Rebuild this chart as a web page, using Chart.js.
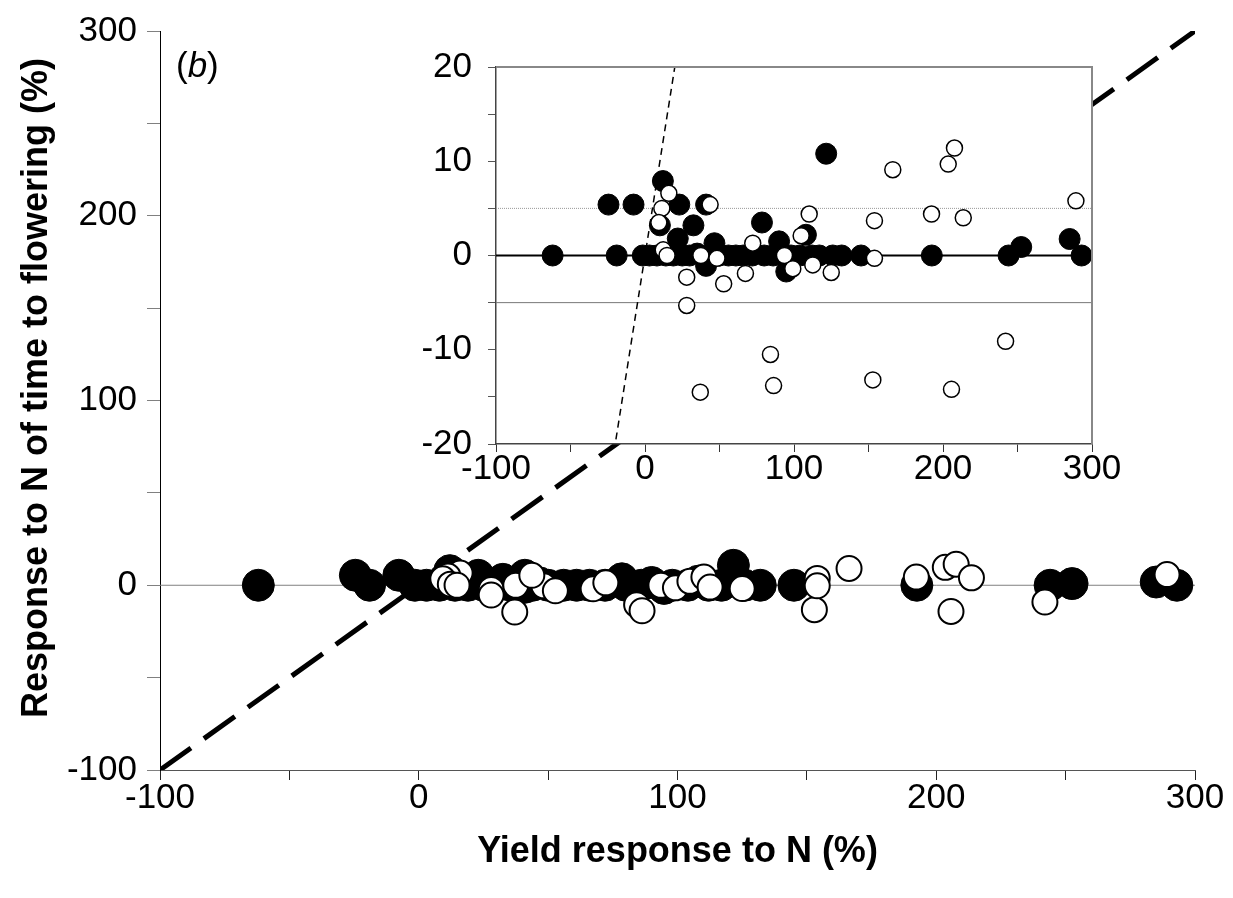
<!DOCTYPE html>
<html>
<head>
<meta charset="utf-8">
<script src="https://cdn.jsdelivr.net/npm/chart.js@4.4.0/dist/chart.umd.min.js"></script>
<style>
  html, body { margin: 0; padding: 0; background: #fff; }
  #wrap { position: relative; width: 1233px; height: 898px; }
  #mainChart { position: absolute; left: 0; top: 0; }
  #insetChart { position: absolute; left: 380px; top: 30px; }
</style>
</head>
<body>
<div id="wrap">
  <canvas id="mainChart" width="1233" height="898"></canvas>
  <canvas id="insetChart" width="760" height="470"></canvas>
</div>
<script>
// filled symbols: yield response (%) / flowering-time response (%)
const filledX = [-62, -24.5, -7.7, -19, -1.5, 3, 8, 12, 10, 14, 19, 23, 22, 25, 30, 32.5, 35, 41, 41, 44,
                 46.6, 50, 56, 61, 66, 72, 78.5, 80, 86, 90, 94.8, 98, 104, 108, 112, 117, 121.6, 126, 132, 145,
                 192.5, 244, 252.5, 285, 293];
const filledY = [0, 5.4, 5.4, 0, 0, 0, 0, 7.9, 3.2, 0, 0, 5.4, 1.8, 0, 0, 3.2, 0.2, 5.4, -1.1, 0,
                 1.3, 0, 0, 0, 0, 0, 3.5, 0, 0, 1.5, -1.7, 0, 0, 2.2, 0, 0, 10.8, 0, 0, 0,
                 0, 0, 0.9, 1.75, 0];

// open symbols
const openX = [16, 11.3, 9.3, 12.2, 14.8, 28, 28, 37.5, 48.3, 52.8, 67.4, 72.3, 37.1, 43.7, 84.2, 86.3, 93.6,
               99.2, 104.8, 110.2, 112.6, 125, 152.9, 154, 154, 166.3, 192.3, 203.5, 205.7, 207.7, 213.6, 242, 289.2];
const openY = [6.6, 5.0, 3.5, 0.6, 0, -2.3, -5.3, 0, -0.3, -3.0, -1.9, 1.3, -14.5, 5.4, -10.5, -13.8, 0,
               -1.4, 2.1, 4.4, -1.0, -1.8, -13.2, 3.7, -0.3, 9.1, 4.4, 9.7, -14.2, 11.4, 4.0, -9.1, 5.8];

// axis ranges and labelled ticks
const xRange = [-100, 300];
const mainYRange = [-100, 300];
const insetYRange = [-20, 20];
const mainTickLabels = [-100, 0, 100, 200, 300];
const insetYTickLabels = [-20, -10, 0, 10, 20];
const insetBands = [5, -5];

const FONT = '"Liberation Sans", Arial, sans-serif';

function toPoints(xs, ys) {
    return xs.map((x, i) => ({ x: x, y: ys[i] }));
}

function lineData(y) {
    return xRange.map(x => ({ x: x, y: y }));
}

function labelIf(list) {
    return (v) => list.includes(v) ? String(v) : '';
}

const mainText = {
    id: 'mainText',
    afterDraw(chart) {
        const ctx = chart.ctx;
        const area = chart.chartArea;
        ctx.save();
        ctx.fillStyle = '#000';
        ctx.textBaseline = 'middle';
        ctx.textAlign = 'center';
        ctx.font = 'bold 36px ' + FONT;
        ctx.fillText('Yield response to N (%)', (area.left + area.right) / 2, 852);
        ctx.save();
        ctx.translate(37, 388);
        ctx.rotate(-Math.PI / 2);
        ctx.fillText('Response to N of time to flowering (%)', 0, 0);
        ctx.restore();

        // panel letter, italic b in plain brackets
        ctx.textAlign = 'left';
        let x = 176;
        const parts = [['(', ''], ['b', 'italic '], [')', '']];
        for (const [t, style] of parts) {
            ctx.font = style + '35px ' + FONT;
            ctx.fillText(t, x, 67);
            x += ctx.measureText(t).width;
        }
        ctx.restore();
    }
};

const insetFrame = {
    id: 'insetFrame',
    beforeDraw(chart) {
        const a = chart.chartArea;
        const ctx = chart.ctx;
        ctx.save();
        ctx.fillStyle = '#fff';
        ctx.fillRect(a.left, a.top, a.right - a.left, a.bottom - a.top);
        ctx.restore();
    },
    afterDraw(chart) {
        const a = chart.chartArea;
        const ctx = chart.ctx;
        ctx.save();
        ctx.strokeStyle = '#888';
        ctx.lineWidth = 2;
        ctx.beginPath();
        ctx.moveTo(a.left, a.top);
        ctx.lineTo(a.right, a.top);
        ctx.lineTo(a.right, a.bottom);
        ctx.stroke();
        ctx.restore();
    }
};

new Chart(document.getElementById('mainChart'), {
    type: 'scatter',
    data: {
        datasets: [{
            data: toPoints(openX, openY),
            backgroundColor: '#fff',
            borderColor: '#000',
            borderWidth: 2,
            pointRadius: 12.5,
            order: 0
        }, {
            data: toPoints(filledX, filledY),
            backgroundColor: '#000',
            borderColor: '#000',
            borderWidth: 1,
            pointRadius: 16,
            order: 1
        }, {
            data: toPoints(xRange, mainYRange),
            showLine: true,
            borderColor: '#000',
            borderWidth: 5,
            borderDash: [38, 16],
            pointRadius: 0,
            order: 2
        }, {
            data: lineData(0),
            showLine: true,
            borderColor: '#808080',
            borderWidth: 1,
            pointRadius: 0,
            order: 3
        }]
    },
    options: {
        responsive: false,
        animation: false,
        events: [],
        layout: { padding: { top: 28, right: 38, left: 0, bottom: 0 } },
        plugins: { legend: { display: false }, tooltip: { enabled: false } },
        scales: {
            x: {
                min: xRange[0], max: xRange[1],
                afterFit(s) { s.height = 128; },
                grid: { drawOnChartArea: false, drawTicks: true, tickLength: 10, color: '#222' },
                border: { display: true, color: '#555', width: 1 },
                ticks: { stepSize: 50, autoSkip: false, maxRotation: 0, padding: -3, color: '#000',
                         font: { family: FONT, size: 35 }, callback: labelIf(mainTickLabels) }
            },
            y: {
                min: mainYRange[0], max: mainYRange[1],
                afterFit(s) { s.width = 160; },
                grid: { drawOnChartArea: false, drawTicks: true, tickLength: 13, color: '#808080' },
                border: { display: true, color: '#000', width: 1 },
                ticks: { stepSize: 50, autoSkip: false, padding: 10, color: '#000',
                         font: { family: FONT, size: 35 }, callback: labelIf(mainTickLabels) }
            }
        }
    },
    plugins: [mainText]
});

new Chart(document.getElementById('insetChart'), {
    type: 'scatter',
    data: {
        datasets: [{
            data: toPoints(openX, openY),
            backgroundColor: '#fff',
            borderColor: '#000',
            borderWidth: 1.5,
            pointRadius: 8,
            order: 0
        }, {
            data: toPoints(filledX, filledY),
            backgroundColor: '#000',
            borderColor: '#000',
            borderWidth: 1,
            pointRadius: 10.5,
            order: 1
        }, {
            data: toPoints(xRange, mainYRange),
            showLine: true,
            borderColor: '#000',
            borderWidth: 1.5,
            borderDash: [7, 5],
            pointRadius: 0,
            order: 2
        }, {
            data: lineData(0),
            showLine: true,
            borderColor: '#000',
            borderWidth: 2,
            pointRadius: 0,
            order: 3
        }, {
            data: lineData(insetBands[0]),
            showLine: true,
            borderColor: '#999',
            borderWidth: 1,
            borderDash: [1, 1],
            pointRadius: 0,
            order: 4
        }, {
            data: lineData(insetBands[1]),
            showLine: true,
            borderColor: '#777',
            borderWidth: 1,
            pointRadius: 0,
            order: 4
        }]
    },
    options: {
        responsive: false,
        animation: false,
        events: [],
        layout: { padding: { top: 32, right: 48, left: 0, bottom: 0 } },
        plugins: { legend: { display: false }, tooltip: { enabled: false } },
        scales: {
            x: {
                min: xRange[0], max: xRange[1],
                afterFit(s) { s.height = 56; },
                grid: { drawOnChartArea: false, drawTicks: true, tickLength: 8, color: '#333' },
                border: { display: true, color: '#444', width: 1.5 },
                ticks: { stepSize: 50, autoSkip: false, maxRotation: 0, padding: -4, color: '#000',
                         font: { family: FONT, size: 35 }, callback: labelIf(mainTickLabels) }
            },
            y: {
                min: insetYRange[0], max: insetYRange[1],
                afterFit(s) { s.width = 116; },
                grid: { drawOnChartArea: false, drawTicks: true, tickLength: 8, color: '#555' },
                border: { display: true, color: '#444', width: 1.5 },
                ticks: { stepSize: 5, autoSkip: false, padding: 16, color: '#000',
                         font: { family: FONT, size: 35 }, callback: labelIf(insetYTickLabels) }
            }
        }
    },
    plugins: [insetFrame]
});
</script>
</body>
</html>
